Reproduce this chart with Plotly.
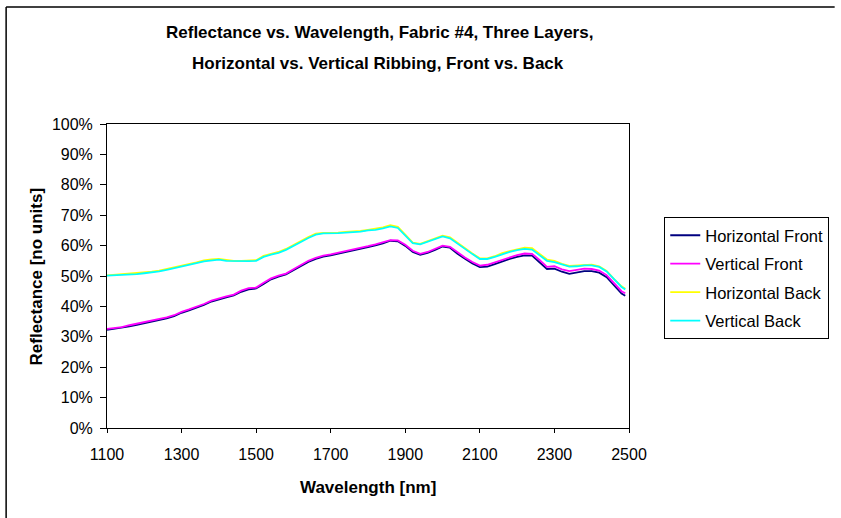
import plotly.graph_objects as go

# Wavelength samples [nm]
wavelength = [1100, 1120, 1140, 1160, 1180, 1200, 1220, 1240, 1260, 1280,
              1300, 1320, 1340, 1360, 1380, 1400, 1420, 1440, 1460, 1480,
              1500, 1520, 1540, 1560, 1580, 1600, 1620, 1640, 1660, 1680,
              1700, 1720, 1740, 1760, 1780, 1800, 1820, 1840, 1860, 1880,
              1900, 1920, 1940, 1960, 1980, 2000, 2020, 2040, 2060, 2080,
              2100, 2120, 2140, 2160, 2180, 2200, 2220, 2240, 2260, 2280,
              2300, 2320, 2340, 2360, 2380, 2400, 2420, 2440, 2460, 2480, 2490]

# Reflectance [%]
horizontal_front = [32.3, 32.6, 32.9, 33.4, 33.9, 34.4, 35.1, 35.6, 36.1, 36.8,
                    37.9, 38.7, 39.5, 40.5, 41.6, 42.4, 43.0, 43.6, 44.8, 45.6,
                    45.9, 47.4, 48.9, 49.8, 50.5, 51.9, 53.2, 54.6, 55.6, 56.4,
                    56.8, 57.3, 57.8, 58.5, 58.9, 59.5, 60.1, 60.7, 61.6, 61.4,
                    59.9, 57.9, 57.0, 57.6, 58.6, 59.7, 59.3, 57.3, 55.7, 54.1,
                    52.9, 53.1, 53.9, 54.8, 55.6, 56.3, 56.8, 56.7, 54.6, 52.3,
                    52.4, 51.4, 50.7, 51.2, 51.6, 51.6, 51.1, 49.6, 47.0, 44.2, 43.5]

vertical_front = [32.6, 32.9, 33.2, 33.8, 34.3, 34.8, 35.4, 35.9, 36.4, 37.1,
                  38.2, 39.0, 39.8, 40.8, 41.9, 42.7, 43.3, 43.9, 45.2, 46.0,
                  46.2, 47.8, 49.2, 50.1, 50.8, 52.2, 53.6, 55.0, 56.0, 56.7,
                  57.1, 57.6, 58.1, 58.8, 59.2, 59.8, 60.4, 61.0, 61.8, 61.7,
                  60.3, 58.3, 57.3, 57.9, 58.9, 60.0, 59.6, 57.7, 56.1, 54.6,
                  53.4, 53.7, 54.5, 55.4, 56.2, 56.9, 57.4, 57.3, 55.3, 53.0,
                  53.2, 52.2, 51.6, 52.1, 52.4, 52.3, 51.8, 50.3, 47.7, 45.0, 44.3]

horizontal_back = [50.2, 50.4, 50.6, 50.7, 50.8, 51.1, 51.4, 51.8, 52.3, 52.8,
                   53.3, 53.9, 54.5, 55.1, 55.5, 55.6, 55.2, 55.0, 55.0, 55.0,
                   55.2, 56.6, 57.3, 57.9, 58.9, 60.1, 61.5, 62.8, 63.9, 64.2,
                   64.2, 64.3, 64.5, 64.6, 64.8, 65.2, 65.5, 66.0, 66.7, 66.2,
                   63.6, 61.0, 60.6, 61.5, 62.4, 63.3, 62.7, 60.9, 59.0, 57.4,
                   55.8, 55.8, 56.5, 57.5, 58.2, 58.8, 59.3, 59.2, 57.3, 55.4,
                   55.0, 54.0, 53.3, 53.4, 53.7, 53.7, 53.2, 51.7, 49.0, 46.6, 45.8]

vertical_back = [50.1, 50.2, 50.4, 50.5, 50.6, 50.9, 51.1, 51.5, 52.0, 52.5,
                 53.0, 53.6, 54.2, 54.8, 55.2, 55.4, 55.0, 54.9, 54.9, 54.9,
                 55.0, 56.3, 57.0, 57.6, 58.6, 59.8, 61.2, 62.5, 63.6, 64.0,
                 64.0, 64.1, 64.3, 64.4, 64.6, 65.0, 65.2, 65.7, 66.3, 65.8,
                 63.3, 60.8, 60.4, 61.2, 62.1, 63.0, 62.4, 60.6, 58.8, 57.2,
                 55.6, 55.6, 56.3, 57.2, 57.9, 58.5, 58.9, 58.7, 57.0, 55.0,
                 54.6, 53.8, 53.1, 53.2, 53.5, 53.5, 53.0, 51.5, 48.8, 46.4, 45.6]

series_names = ["Horizontal Front", "Vertical Front", "Horizontal Back", "Vertical Back"]
series_values = [horizontal_front, vertical_front, horizontal_back, vertical_back]
series_colors = ["#000080", "#FF00FF", "#FFFF00", "#00FFFF"]

x_ticks = [1100, 1300, 1500, 1700, 1900, 2100, 2300, 2500]
y_ticks = [0, 10, 20, 30, 40, 50, 60, 70, 80, 90, 100]
y_tick_labels = [f"{v}%" for v in y_ticks]

FONT = "Liberation Sans, Arial, sans-serif"

fig = go.Figure()
for name, vals, color in zip(series_names, series_values, series_colors):
    fig.add_trace(go.Scatter(
        x=wavelength, y=vals, mode="lines", name=name, legendgroup=name,
        line=dict(color=color, width=1.8),
    ))

# plot area spans 107..640 px horizontally and 124..428 px vertically
L, R, T, B = 107, 640, 124, 428
W, H = 841, 518


def px(x):
    return (x - L) / (R - L)


def py(y):
    return (B - y) / (B - T)


fig.update_layout(
    width=W, height=H,
    margin=dict(l=L, r=W - R, t=T, b=H - B, pad=0),
    paper_bgcolor="white", plot_bgcolor="white",
    font=dict(family=FONT, size=16, color="black"),
    showlegend=True,
    legend=dict(
        x=px(676), y=py(217), xanchor="left", yanchor="top",
        bordercolor="black", borderwidth=1, bgcolor="white",
        font=dict(size=16.5), traceorder="grouped", tracegroupgap=4,
        itemwidth=30,
    ),
    xaxis=dict(
        range=[1100, 2500], tickvals=x_ticks, ticks="outside", ticklen=4,
        tickcolor="black", showline=True, linecolor="black", linewidth=1,
        mirror=True, showgrid=False, zeroline=False, ticklabelstandoff=8,
        tickfont=dict(size=16),
    ),
    yaxis=dict(
        range=[0, 100], tickvals=y_ticks, ticktext=y_tick_labels,
        ticks="outside", ticklen=6, tickcolor="black", showline=True,
        linecolor="black", linewidth=1, mirror=True, showgrid=False,
        zeroline=False, ticklabelstandoff=4, tickfont=dict(size=16),
    ),
    annotations=[
        dict(text="<b>Reflectance vs. Wavelength, Fabric #4, Three Layers,</b>",
             x=px(385), y=py(33), xref="paper", yref="paper", showarrow=False,
             xanchor="center", yanchor="middle", font=dict(size=17)),
        dict(text="<b>Horizontal vs. Vertical Ribbing, Front vs. Back</b>",
             x=px(384), y=py(63), xref="paper", yref="paper", showarrow=False,
             xanchor="center", yanchor="middle", font=dict(size=17)),
        dict(text="<b>Wavelength [nm]</b>", x=px(373), y=py(487),
             xref="paper", yref="paper", showarrow=False,
             xanchor="center", yanchor="middle", font=dict(size=17)),
        dict(text="<b>Reflectance [no units]</b>", x=px(35), y=0.5,
             xref="paper", yref="paper", showarrow=False, textangle=-90,
             xanchor="center", yanchor="middle", font=dict(size=17)),
    ],
    shapes=[
        # chart frame: top and left edges
        dict(type="line", xref="paper", yref="paper",
             x0=px(4), x1=px(850), y0=py(7), y1=py(7),
             line=dict(color="black", width=1.5)),
        dict(type="line", xref="paper", yref="paper",
             x0=px(4), x1=px(4), y0=py(7), y1=py(530),
             line=dict(color="black", width=1.5)),
    ],
)

fig.write_html("out.html")
